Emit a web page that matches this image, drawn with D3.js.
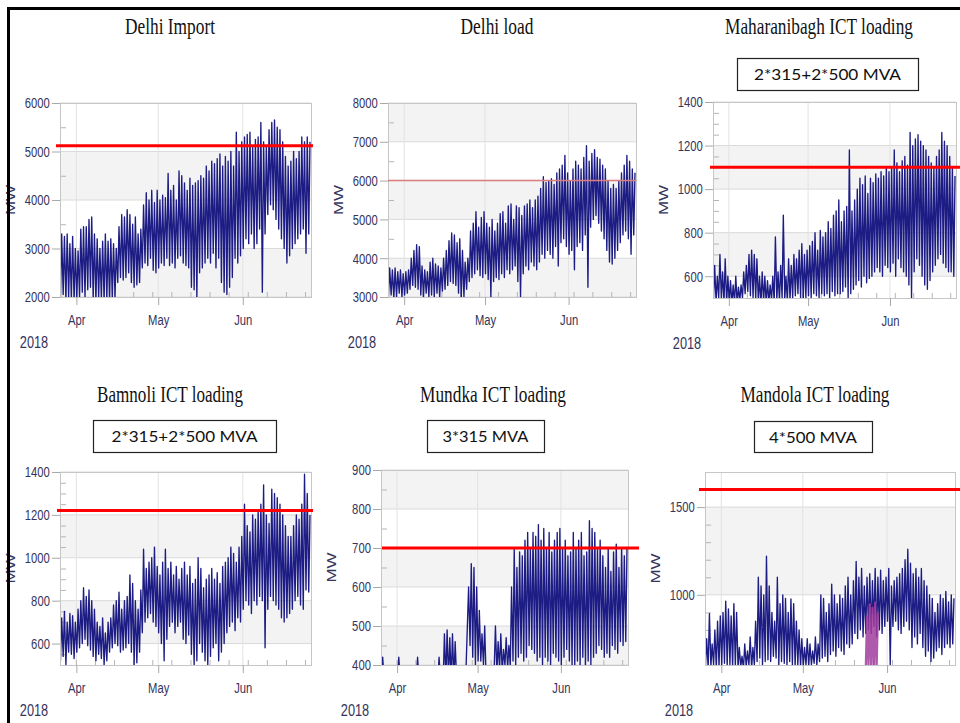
<!DOCTYPE html>
<html lang="en">
<head>
<meta charset="utf-8">
<title>Delhi import, load and ICT loading 2018</title>
<script src="https://cdn.jsdelivr.net/npm/d3@7"></script>
<style>
  body { margin: 0; background: #fff; }
  svg { display: block; }
</style>
</head>
<body>
<div id="main"></div>
<script>
// one low and one high reading per day, day 0 = 26 Mar 2018
var startDay = new Date(2018, 2, 26);
var endDay = new Date(2018, 5, 26);

var delhiImportMax = [3300, 3250, 3300, 3100, 3250, 3000, 2950, 3400, 3450, 3450, 3600, 3650,
  3300, 3200, 3000, 3150, 3300, 3150, 3200, 3100, 3000, 3450, 3700, 3650,
  3800, 3700, 3500, 3650, 3300, 3400, 3900, 4150, 4000, 4200, 3950, 4200,
  4000, 4100, 4050, 4550, 4200, 4300, 4000, 4600, 4500, 4350, 4200, 4450,
  4300, 4350, 4400, 4500, 4450, 4700, 4600, 4800, 4750, 4850, 4950, 4700,
  4900, 4800, 5000, 4700, 5400, 5000, 5200, 5300, 5350, 5400, 5100, 5250,
  5300, 5600, 5200, 5100, 5450, 5600, 5650, 5500, 5450, 5200, 4900, 4700,
  4800, 5000, 4850, 5000, 5300, 5200, 5300, 5200];
var delhiImportMin = [1950, 2050, 1900, 2000, 1950, 1900, 1950, 2000, 2100, 2000, 2150, 2200,
  1950, 1900, 2000, 1950, 1900, 1950, 1900, 1950, 2000, 2300, 2400, 2350,
  2400, 2500, 2300, 2200, 2250, 2300, 2600, 2700, 2650, 2800, 2550, 2500,
  2600, 2700, 2650, 2800, 2650, 2700, 2600, 2800, 2850, 2700, 2650, 2600,
  2200, 2150, 2000, 2500, 2600, 2700, 2800, 2700, 2900, 2600, 2800, 2300,
  2100, 2050, 2200, 2400, 2800, 2700, 2850, 3000, 3200, 3100, 3300, 3000,
  3100, 3400, 2100, 3300, 3700, 3900, 3800, 3600, 3400, 3200, 3000, 2700,
  2850, 3000, 3100, 3200, 3300, 3400, 2900, 3300];

var delhiLoadMax = [3750, 3700, 3750, 3650, 3700, 3600, 3650, 3700, 4000, 4200, 4350, 4300,
  3800, 3700, 3650, 3900, 4000, 3850, 3800, 3750, 4000, 4200, 4450, 4650,
  4600, 4400, 4500, 4200, 3900, 4000, 4700, 4900, 5200, 4800, 5050, 5200,
  4900, 4800, 5000, 4700, 4900, 5150, 5200, 4900, 5350, 5400, 5000, 5350,
  5300, 5100, 5350, 5400, 5500, 5300, 5500, 5600, 5800, 6100, 5950, 6000,
  6050, 5900, 6200, 6300, 6400, 6650, 6200, 6000, 6300, 6500, 6400, 6300,
  6600, 6900, 6500, 6700, 6800, 6600, 6550, 6400, 6300, 6000, 5800, 5900,
  5800, 6000, 6200, 6400, 6650, 6500, 6300, 6200];
var delhiLoadMin = [3000, 3050, 2950, 3000, 3100, 3000, 3050, 3100, 3200, 3300, 3250, 3200,
  3050, 3000, 3100, 3000, 3050, 3000, 3100, 3000, 3150, 3200, 3300, 3400,
  3350, 3300, 3100, 2950, 3000, 3200, 3400, 3500, 3600, 3700, 3550, 3500,
  3600, 3450, 3000, 3400, 3500, 3450, 3600, 3500, 3700, 3600, 3700, 3800,
  3400, 3000, 3600, 3800, 3700, 3900, 3800, 3700, 3900, 4100, 4000, 4200,
  4100, 4000, 4300, 3800, 4400, 4500, 4300, 4100, 4200, 3700, 4300, 4400,
  4200, 4600, 3250, 4800, 5000, 5100, 4900, 4700, 4500, 4200, 3900, 3850,
  4000, 4200, 4400, 4600, 4700, 4500, 4100, 4600];

var maharanibaghMax = [650, 600, 700, 620, 680, 600, 580, 560, 600, 550, 560, 620,
  650, 700, 720, 700, 680, 600, 620, 600, 580, 560, 600, 780,
  620, 650, 880, 600, 680, 650, 700, 680, 720, 750, 700, 720,
  740, 760, 800, 720, 810, 780, 800, 850, 820, 880, 900, 950,
  850, 900, 920, 1180, 900, 950, 1000, 1050, 1020, 1060, 980, 1050,
  1030, 1070, 1050, 1080, 1060, 1100, 1080, 1100, 1180, 1120, 1080, 1130,
  1150, 1110, 1260, 1200, 1230, 1250, 1220, 1200, 1180, 1150, 1120, 1100,
  1150, 1180, 1260, 1220, 1200, 1150, 1100, 1060];
var maharanibaghMin = [490, 480, 500, 490, 480, 470, 480, 470, 480, 470, 490, 500,
  520, 530, 510, 500, 490, 480, 470, 480, 470, 480, 490, 480,
  490, 480, 500, 490, 480, 490, 500, 510, 520, 500, 490, 500,
  510, 500, 520, 510, 500, 520, 510, 520, 500, 530, 510, 520,
  520, 530, 550, 500, 520, 540, 560, 580, 550, 600, 570, 590,
  600, 620, 640, 620, 600, 650, 640, 620, 660, 600, 680, 640,
  620, 600, 560, 500, 620, 680, 650, 600, 560, 540, 580, 620,
  650, 680, 700, 660, 640, 620, 620, 600];

var bamnoliMax = [720, 750, 700, 740, 730, 700, 760, 800, 860, 820, 850, 800,
  760, 700, 680, 720, 650, 700, 720, 780, 800, 840, 760, 800,
  820, 920, 880, 800, 760, 850, 1040, 950, 980, 1000, 1050, 960,
  920, 980, 1040, 950, 980, 920, 960, 900, 950, 980, 920, 960,
  880, 900, 1000, 950, 860, 900, 920, 950, 900, 930, 880, 960,
  980, 1000, 1050, 1020, 980, 1050, 1100, 1250, 1150, 1120, 1200, 1180,
  1220, 1250, 1340, 1200, 1160, 1320, 1300, 1280, 1250, 1200, 1150, 1100,
  1100, 1150, 1200, 1180, 1250, 1390, 1300, 1200];
var bamnoliMin = [520, 540, 500, 560, 550, 530, 560, 580, 600, 620, 590, 570,
  540, 520, 550, 530, 500, 520, 560, 580, 600, 590, 560, 570,
  580, 600, 560, 500, 510, 560, 650, 700, 720, 740, 700, 680,
  650, 600, 520, 620, 680, 700, 650, 680, 700, 620, 600, 640,
  550, 500, 520, 600, 560, 520, 500, 540, 580, 600, 520, 560,
  600, 650, 680, 700, 660, 720, 700, 760, 800, 780, 740, 800,
  780, 820, 800, 580, 760, 820, 800, 780, 760, 720, 700, 720,
  740, 760, 800, 820, 780, 760, 850, 840];

var mundkaMax = [420, 380, 380, 380, 380, 380, 420, 380, 380, 380, 380, 380,
  380, 420, 380, 380, 380, 380, 380, 380, 380, 420, 380, 480,
  490, 470, 480, 460, 380, 380, 380, 380, 600, 660, 650, 600,
  540, 480, 500, 380, 380, 380, 500, 460, 480, 440, 470, 450,
  600, 700, 650, 690, 680, 720, 740, 700, 740, 730, 760, 720,
  750, 700, 740, 690, 720, 740, 750, 700, 720, 680, 690, 740,
  700, 720, 740, 680, 690, 770, 750, 740, 700, 720, 680, 650,
  700, 640, 690, 710, 650, 700, 680, 700];
var mundkaMin = [360, 360, 360, 360, 360, 360, 360, 360, 360, 360, 360, 360,
  360, 360, 360, 360, 360, 360, 360, 360, 360, 360, 360, 360,
  360, 360, 360, 360, 360, 360, 360, 360, 500, 450, 420, 400,
  410, 410, 400, 360, 360, 360, 390, 380, 390, 380, 400, 390,
  400, 410, 400, 420, 430, 410, 420, 450, 440, 430, 410, 420,
  400, 420, 410, 400, 430, 420, 410, 400, 420, 440, 410, 400,
  400, 410, 400, 420, 400, 410, 400, 420, 430, 450, 440, 420,
  430, 420, 450, 440, 430, 460, 450, 460];

var mandolaMax = [750, 893, 720, 800, 850, 880, 900, 964, 920, 880, 950, 900,
  700, 650, 720, 680, 760, 700, 850, 1100, 1050, 1000, 1220, 1050,
  900, 850, 1100, 950, 1000, 980, 900, 977, 950, 850, 800, 750,
  700, 750, 720, 680, 760, 720, 1000, 980, 900, 950, 1060, 1000,
  950, 1000, 980, 1050, 1100, 1000, 1080, 1190, 1100, 1150, 1050, 1100,
  1120, 1080, 1150, 1100, 1140, 1080, 1100, 1150, 1050, 1080, 1100, 1120,
  1150, 1200, 1260, 1180, 1120, 1150, 1100, 1150, 1080, 1050, 1000, 980,
  900, 950, 1000, 980, 1020, 960, 1000, 980];
var mandolaMin = [590, 580, 590, 600, 580, 590, 600, 610, 590, 600, 580, 590,
  580, 590, 580, 590, 600, 580, 600, 620, 640, 600, 620, 630,
  620, 650, 640, 600, 620, 610, 600, 620, 600, 590, 600, 590,
  590, 600, 590, 600, 610, 600, 620, 640, 650, 620, 660, 680,
  650, 700, 680, 660, 720, 700, 720, 780, 750, 800, 760, 780,
  800, 780, 820, 760, 800, 780, 820, 850, 600, 820, 850, 800,
  780, 820, 850, 800, 700, 760, 720, 780, 700, 650, 680, 620,
  640, 680, 700, 660, 700, 720, 700, 720];
// second trace seen for a few days at Mandola (purple)
var mandolaExtraFirstDay = 59;
var mandolaExtraMax = [880, 950, 930, 960, 900];
var mandolaExtraMin = [580, 580, 580, 580, 580];

var titles = ["Delhi Import", "Delhi load", "Maharanibagh ICT loading",
  "Bamnoli ICT loading", "Mundka ICT loading", "Mandola ICT loading"];
var ratings = [null, null, "2*315+2*500 MVA", "2*315+2*500 MVA", "3*315 MVA", "4*500 MVA"];
var limits = [5120, 6000, 1100, 1220, 700, 1600];
var yDomains = [[2000, 6000], [3000, 8000], [500, 1400], [500, 1400], [400, 900], [600, 1700]];
var yTicks = [[2000, 3000, 4000, 5000, 6000], [3000, 4000, 5000, 6000, 7000, 8000],
  [600, 800, 1000, 1200, 1400], [600, 800, 1000, 1200, 1400],
  [400, 500, 600, 700, 800, 900], [1000, 1500]];
var yMinorSteps = [500, 500, 50, 50, 50, 100];
var monthTicks = [new Date(2018, 3, 1), new Date(2018, 4, 1), new Date(2018, 5, 1)];
var yearLabel = "2018";
var unitLabel = "MW";

var seriesMax = [delhiImportMax, delhiLoadMax, maharanibaghMax, bamnoliMax, mundkaMax, mandolaMax];
var seriesMin = [delhiImportMin, delhiLoadMin, maharanibaghMin, bamnoliMin, mundkaMin, mandolaMin];

// layout
var layout = [
  {x0: 60, x1: 311, y0: 103, y1: 297, tx: 170, ty: 34, tw: 90, lim: [56, 313], limW: 3, limC: "#ff0000"},
  {x0: 388, x1: 636, y0: 103, y1: 297, tx: 497, ty: 34, tw: 73, lim: [388, 636], limW: 1.5, limC: "#dc7b7b"},
  {x0: 713, x1: 956, y0: 102, y1: 298, tx: 819, ty: 34, tw: 188, lim: [710, 962], limW: 3, limC: "#ff0000",
    box: [737, 58, 181, 32], bw: 147},
  {x0: 60, x1: 311, y0: 472, y1: 665, tx: 170, ty: 402, tw: 146, lim: [57, 313], limW: 3, limC: "#ff0000",
    box: [93, 420, 183, 32], bw: 146},
  {x0: 381, x1: 628, y0: 470, y1: 665, tx: 493, ty: 402, tw: 146, lim: [382, 639], limW: 3, limC: "#ff0000",
    box: [427, 420, 117, 32], bw: 86},
  {x0: 705, x1: 955, y0: 472, y1: 665, tx: 815, ty: 402, tw: 149, lim: [699, 962], limW: 3, limC: "#ff0000",
    box: [754, 421, 118, 31], bw: 88}
];

var w = 960, h = 723;
var labelColor = "#34345c";
var sans = "'Liberation Sans', Arial, sans-serif";

var svg = d3.select("#main").append("svg")
  .attr("width", w)
  .attr("height", h);

svg.append("rect").attr("width", w).attr("height", h).attr("fill", "#fff");

function toPoints(maxArr, minArr, firstDay) {
  var pts = [];
  maxArr.forEach(function(v, i) {
    var d = firstDay + i;
    pts.push({t: d3.timeHour.offset(d3.timeDay.offset(startDay, d), 4), v: minArr[i]});
    pts.push({t: d3.timeHour.offset(d3.timeDay.offset(startDay, d), 15), v: v});
  });
  return pts;
}

// squeeze a text horizontally so it is `width` wide, centred on x
function fitText(sel, x, y, width) {
  var len = sel.node().getComputedTextLength();
  var k = width / len;
  sel.attr("transform", "translate(" + x + "," + y + ") scale(" + k + ",1)");
}

layout.forEach(function(L, i) {
  var g = svg.append("g");

  var x = d3.scaleTime().domain([startDay, endDay]).range([L.x0, L.x1]);
  var y = d3.scaleLinear().domain(yDomains[i]).range([L.y1, L.y0]);

  // alternating bands from the first labelled tick
  var ticks = yTicks[i];
  for (var k = 0; k < ticks.length - 1; k += 2) {
    g.append("rect")
      .attr("x", L.x0).attr("width", L.x1 - L.x0)
      .attr("y", y(ticks[k + 1])).attr("height", y(ticks[k]) - y(ticks[k + 1]))
      .attr("fill", "#f3f3f3");
  }

  // grid
  g.selectAll(".hgrid").data(ticks).enter().append("line")
    .attr("x1", L.x0).attr("x2", L.x1)
    .attr("y1", function(d) { return y(d); }).attr("y2", function(d) { return y(d); })
    .attr("stroke", "#dadada");
  g.selectAll(".vgrid").data(monthTicks).enter().append("line")
    .attr("x1", function(d) { return x(d); }).attr("x2", function(d) { return x(d); })
    .attr("y1", L.y0).attr("y2", L.y1)
    .attr("stroke", "#e2e2e2");

  // minor ticks
  var dom = yDomains[i];
  var minors = d3.range(Math.ceil(dom[0] / yMinorSteps[i]) * yMinorSteps[i], dom[1] + 1, yMinorSteps[i])
    .filter(function(v) { return ticks.indexOf(v) < 0; });
  g.selectAll(".ymin").data(minors).enter().append("line")
    .attr("x1", L.x0).attr("x2", L.x0 + 6)
    .attr("y1", function(d) { return y(d) + 0.5; }).attr("y2", function(d) { return y(d) + 0.5; })
    .attr("stroke", "#b5b5b5");
  g.selectAll(".xmin").data(d3.timeWeek.range(startDay, endDay)).enter().append("line")
    .attr("x1", function(d) { return x(d); }).attr("x2", function(d) { return x(d); })
    .attr("y1", L.y1).attr("y2", L.y1 - 5)
    .attr("stroke", "#b5b5b5");

  // data
  var clipId = "clip" + i;
  svg.append("clipPath").attr("id", clipId).append("rect")
    .attr("x", L.x0).attr("y", L.y0).attr("width", L.x1 - L.x0).attr("height", L.y1 - L.y0);

  var line = d3.line()
    .x(function(d) { return x(d.t); })
    .y(function(d) { return y(d.v); });

  g.append("path")
    .datum(toPoints(seriesMax[i], seriesMin[i], 0))
    .attr("clip-path", "url(#" + clipId + ")")
    .attr("d", line)
    .attr("fill", "none")
    .attr("stroke", "#1c1c84")
    .attr("stroke-width", 1.35)
    .attr("stroke-linejoin", "round");

  if (i === 5) {
    g.append("path")
      .datum(toPoints(mandolaExtraMax, mandolaExtraMin, mandolaExtraFirstDay))
      .attr("clip-path", "url(#" + clipId + ")")
      .attr("d", line)
      .attr("fill", "none")
      .attr("stroke", "#a03c9c")
      .attr("stroke-opacity", 0.85)
      .attr("stroke-width", 2.2);
  }

  // frame
  g.append("rect")
    .attr("x", L.x0 + 0.5).attr("y", L.y0 + 0.5)
    .attr("width", L.x1 - L.x0).attr("height", L.y1 - L.y0)
    .attr("fill", "none").attr("stroke", "#c6c6c6");

  // axes
  g.append("g")
    .attr("transform", "translate(" + L.x0 + ",0)")
    .call(d3.axisLeft(y).tickValues(ticks).tickSize(8).tickFormat(d3.format("d")))
    .attr("font-size", 15).attr("font-family", sans)
    .call(function(a) { a.select(".domain").remove(); })
    .call(function(a) { a.selectAll("line").attr("stroke", "#a8a8a8"); })
    .call(function(a) {
      a.selectAll("text").attr("x", -13.5).attr("transform", "scale(0.75,1)").attr("fill", labelColor);
    });

  g.append("g")
    .attr("transform", "translate(0," + L.y1 + ")")
    .call(d3.axisBottom(x).tickValues(monthTicks).tickSize(8).tickPadding(9).tickFormat(d3.timeFormat("%b")))
    .attr("font-size", 15).attr("font-family", sans)
    .call(function(a) { a.select(".domain").remove(); })
    .call(function(a) { a.selectAll("line").attr("stroke", "#a8a8a8"); })
    .call(function(a) {
      a.selectAll("text").attr("transform", "scale(0.75,1)").attr("fill", labelColor);
    });

  g.append("text")
    .attr("transform", "translate(" + (L.x0 - 26) + "," + (L.y1 + 51) + ") scale(0.75,1)")
    .attr("text-anchor", "middle")
    .attr("font-family", sans).attr("font-size", 17)
    .attr("fill", labelColor)
    .text(yearLabel);

  g.append("text")
    .attr("transform", "translate(" + (L.x0 - 45) + "," + ((L.y0 + L.y1) / 2) + ") scale(0.75,1) rotate(-90)")
    .attr("text-anchor", "middle")
    .attr("font-family", sans).attr("font-size", 17)
    .attr("fill", labelColor)
    .text(unitLabel);

  // limit line
  g.append("line")
    .attr("x1", L.lim[0]).attr("x2", L.lim[1])
    .attr("y1", y(limits[i])).attr("y2", y(limits[i]))
    .attr("stroke", L.limC).attr("stroke-width", L.limW);

  // title
  var title = g.append("text")
    .attr("text-anchor", "middle")
    .attr("font-family", "'Liberation Serif', 'Times New Roman', serif")
    .attr("font-size", 24)
    .attr("fill", "#111")
    .text(titles[i]);
  fitText(title, L.tx, L.ty, L.tw);

  if (ratings[i]) {
    var b = L.box;
    g.append("rect")
      .attr("x", b[0] + 0.5).attr("y", b[1] + 0.5).attr("width", b[2]).attr("height", b[3])
      .attr("fill", "#fff").attr("stroke", "#222").attr("stroke-width", 1.2);
    var rt = g.append("text")
      .attr("text-anchor", "middle")
      .attr("font-family", "Lato, 'Open Sans', sans-serif")
      .attr("font-size", 16)
      .attr("fill", "#111")
      .text(ratings[i]);
    fitText(rt, b[0] + b[2] / 2, b[1] + b[3] / 2 + 6, L.bw);
  }
});

// outer frame of the figure
svg.append("rect")
  .attr("x", 8.5).attr("y", 8.5).attr("width", 1000).attr("height", 800)
  .attr("fill", "none").attr("stroke", "#000").attr("stroke-width", 3);
</script>
</body>
</html>
